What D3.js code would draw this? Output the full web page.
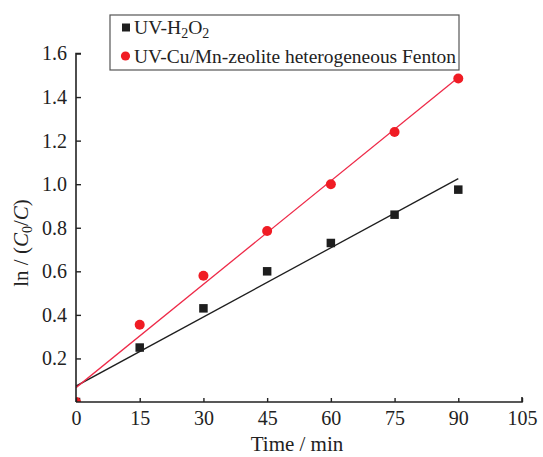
<!DOCTYPE html>
<html>
<head>
<meta charset="utf-8">
<script src="https://cdn.jsdelivr.net/npm/d3@7"></script>
<style>
  html, body { margin: 0; padding: 0; background: #fff; }
  svg { display: block; }
  svg text { font-family: "Liberation Serif", "DejaVu Serif", serif !important; fill: #222; }
</style>
</head>
<body>
<svg id="chart" width="543" height="457"></svg>
<script>
// ---- data ----
const times = [0, 15, 30, 45, 60, 75, 90];
const uvH2O2 = [0, 0.25, 0.43, 0.60, 0.73, 0.86, 0.975];
const uvFenton = [0, 0.355, 0.58, 0.785, 1.0, 1.24, 1.485];
const xTicks = [0, 15, 30, 45, 60, 75, 90, 105];
const yTicks = [0.2, 0.4, 0.6, 0.8, 1.0, 1.2, 1.4, 1.6];
const seriesNames = ["UV-H2O2", "UV-Cu/Mn-zeolite heterogeneous Fenton"];

(function () {
const svg = d3.select("#chart");
const pL = 76, pR = 522, pT = 53.5, pB = 402;
const serif = "'Liberation Serif', serif";

const x = d3.scaleLinear().domain([0, 105]).range([pL, pR]);
const y = d3.scaleLinear().domain([0, 1.6]).range([pB, pT]);

// least squares fit from the data
function fit(xs, ys) {
  const mx = d3.mean(xs), my = d3.mean(ys);
  let num = 0, den = 0;
  xs.forEach((v, i) => { num += (v - mx) * (ys[i] - my); den += (v - mx) * (v - mx); });
  const b = num / den, a = my - b * mx;
  return [[xs[0], a + b * xs[0]], [xs[xs.length - 1], a + b * xs[xs.length - 1]]];
}

const blackCol = "#1e1e1e";
const redCol = "#f01c24";
const redLine = "#ee2a48";

svg.append("defs").append("clipPath").attr("id", "plotclip")
  .append("rect").attr("x", pL).attr("y", pT - 10)
  .attr("width", pR - pL + 10).attr("height", pB - pT + 10);

const plot = svg.append("g").attr("clip-path", "url(#plotclip)");

const line = d3.line().x(d => x(d[0])).y(d => y(d[1]));

plot.append("path").datum(fit(times, uvH2O2))
  .attr("d", line).attr("stroke", blackCol).attr("stroke-width", 1.3).attr("fill", "none");
plot.append("path").datum(fit(times, uvFenton))
  .attr("d", line).attr("stroke", redLine).attr("stroke-width", 1.3).attr("fill", "none");

const sq = 8.5;
plot.selectAll("rect.sq").data(times.map((t, i) => [t, uvH2O2[i]])).enter()
  .append("rect").attr("class", "sq")
  .attr("x", d => x(d[0]) - sq / 2).attr("y", d => y(d[1]) - sq / 2)
  .attr("width", sq).attr("height", sq).attr("fill", blackCol);

plot.selectAll("circle.rd").data(times.map((t, i) => [t, uvFenton[i]])).enter()
  .append("circle").attr("class", "rd")
  .attr("cx", d => x(d[0])).attr("cy", d => y(d[1]))
  .attr("r", 5).attr("fill", redCol);

// axes
const xAxis = d3.axisBottom(x).tickValues(xTicks).tickSize(-4).tickPadding(9)
  .tickFormat(d3.format("d"));
const gx = svg.append("g").attr("transform", `translate(0,${pB})`).call(xAxis)
  .attr("font-family", serif).attr("font-size", 20);
gx.select(".domain").attr("d", `M${pL},0H${pR}V-5`).attr("stroke", "#222").attr("stroke-width", 1.6);
gx.selectAll(".tick line").attr("stroke", "#222").attr("stroke-width", 1.4);
gx.selectAll(".tick text").style("font-family", serif).style("font-size", "20px").attr("fill", "#222");

const yAxis = d3.axisLeft(y).tickValues(yTicks).tickSize(-5).tickPadding(9)
  .tickFormat(d3.format(".1f"));
const gy = svg.append("g").attr("transform", `translate(${pL},0)`).call(yAxis)
  .attr("font-family", serif).attr("font-size", 20);
gy.select(".domain").attr("d", `M5,${pT}H0V${pB}`).attr("stroke", "#222").attr("stroke-width", 1.6);
gy.selectAll(".tick line").attr("stroke", "#222").attr("stroke-width", 1.4);
gy.selectAll(".tick text").style("font-family", serif).style("font-size", "20px").attr("fill", "#222");

// axis titles
svg.append("text").attr("x", 297).attr("y", 451)
  .attr("text-anchor", "middle").style("font-size", "21px").text("Time / min");

const yt = svg.append("text").attr("transform", `translate(28,${243}) rotate(-90)`)
  .attr("text-anchor", "middle").style("font-size", "21px");
yt.append("tspan").text("ln / (");
yt.append("tspan").attr("font-style", "italic").text("C");
yt.append("tspan").style("font-size", "14px").attr("dy", 4).text("0");
yt.append("tspan").attr("dy", -4).text("/");
yt.append("tspan").attr("font-style", "italic").text("C");
yt.append("tspan").text(")");

// legend
const lg = svg.append("g");
lg.append("rect").attr("x", 110).attr("y", 15).attr("width", 349).attr("height", 55)
  .attr("fill", "#fff").attr("stroke", "#555").attr("stroke-width", 1.2);
lg.append("rect").attr("x", 122).attr("y", 23.5).attr("width", 8).attr("height", 8).attr("fill", blackCol);
const t1 = lg.append("text").attr("x", 134).attr("y", 34).style("font-size", "19.6px");
t1.append("tspan").text("UV-H");
t1.append("tspan").style("font-size", "14px").attr("dy", 4).text("2");
t1.append("tspan").attr("dy", -4).text("O");
t1.append("tspan").style("font-size", "14px").attr("dy", 4).text("2");
lg.append("circle").attr("cx", 125.5).attr("cy", 56).attr("r", 4.6).attr("fill", redCol);
lg.append("text").attr("x", 134).attr("y", 62.5).style("font-size", "19.6px")
  .attr("textLength", 322).attr("lengthAdjust", "spacingAndGlyphs")
  .text(seriesNames[1]);
})();
</script>
</body>
</html>
